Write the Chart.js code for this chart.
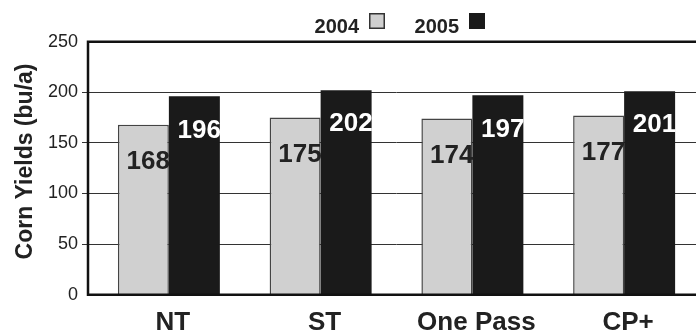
<!DOCTYPE html>
<html>
<head>
<meta charset="utf-8">
<script src="https://cdn.jsdelivr.net/npm/chart.js@4/dist/chart.umd.min.js"></script>
<style>
  html, body { margin: 0; padding: 0; background: #fff; overflow: hidden; }
  #wrap { width: 704px; height: 333px; }
</style>
</head>
<body>
<div id="wrap"><canvas id="c" width="704" height="333"></canvas></div>
<script>
// Corn yields by tillage system, two seasons
const categories = ['NT', 'ST', 'One Pass', 'CP+'];
const yields2004 = [168, 175, 174, 177];
const yields2005 = [196, 202, 197, 201];
const seriesNames = ['2004', '2005'];
const yTicks = [0, 50, 100, 150, 200, 250];
const yTitle = 'Corn Yields (bu/a)';

const FONT = '"Liberation Sans", Arial, Helvetica, sans-serif';
const INK = '#222222';

// Frame around the plot: left axis, top rule and base line
const framePlugin = {
  id: 'frame',
  afterDatasetsDraw(chart) {
    const { ctx, chartArea, scales } = chart;
    const y = scales.y;
    const x0 = chartArea.left - 5;
    const top = y.getPixelForValue(250);
    const bot = y.getPixelForValue(0);
    ctx.save();
    ctx.strokeStyle = '#111';
    ctx.lineWidth = 2.5;
    ctx.beginPath();
    ctx.moveTo(chart.width, top);
    ctx.lineTo(x0, top);
    ctx.lineTo(x0, bot);
    ctx.lineTo(chart.width, bot);
    ctx.stroke();
    ctx.restore();
  }
};

// Value labels inside the top of each bar
const valueLabels = {
  id: 'valueLabels',
  afterDatasetsDraw(chart) {
    const { ctx } = chart;
    ctx.save();
    ctx.font = 'bold 26px ' + FONT;
    ctx.textAlign = 'right';
    ctx.textBaseline = 'middle';
    chart.data.datasets.forEach((ds, di) => {
      const meta = chart.getDatasetMeta(di);
      meta.data.forEach((bar, i) => {
        ctx.fillStyle = di === 0 ? INK : '#ffffff';
        const drop = di === 0 ? 37 : 34;
        ctx.fillText(String(ds.data[i]), bar.x + bar.width / 2 + 1, bar.y + drop);
      });
    });
    ctx.restore();
  }
};

// Series key above the plot: name followed by its swatch
const seriesKey = {
  id: 'seriesKey',
  afterDraw(chart) {
    const { ctx } = chart;
    const textRight = [359, 459];
    ctx.save();
    ctx.font = 'bold 20px ' + FONT;
    ctx.textAlign = 'right';
    ctx.textBaseline = 'middle';
    chart.data.datasets.forEach((ds, di) => {
      ctx.fillStyle = INK;
      ctx.fillText(ds.label, textRight[di], 27);
      const sx = textRight[di] + 10, sy = 13, s = 16;
      ctx.fillStyle = ds.backgroundColor;
      ctx.fillRect(sx, sy, s, s);
      if (di === 0) {
        ctx.strokeStyle = '#333';
        ctx.lineWidth = 1.5;
        ctx.strokeRect(sx + 0.75, sy + 0.75, s - 1.5, s - 1.5);
      }
    });
    ctx.restore();
  }
};

// Rotated y-axis title
const yAxisTitle = {
  id: 'yAxisTitle',
  afterDraw(chart) {
    const { ctx } = chart;
    ctx.save();
    ctx.translate(26, 161.5);
    ctx.rotate(-Math.PI / 2);
    ctx.font = 'bold 23px ' + FONT;
    ctx.fillStyle = INK;
    ctx.textAlign = 'center';
    ctx.textBaseline = 'middle';
    ctx.fillText(yTitle, 0, 0);
    ctx.restore();
  }
};

new Chart(document.getElementById('c'), {
  type: 'bar',
  data: {
    labels: categories,
    datasets: [
      {
        label: seriesNames[0],
        data: yields2004,
        backgroundColor: '#d0d0d0',
        borderColor: '#444444',
        borderWidth: 1.5,
        borderSkipped: 'bottom'
      },
      {
        label: seriesNames[1],
        data: yields2005,
        backgroundColor: '#1a1a1a',
        borderWidth: 0
      }
    ]
  },
  options: {
    responsive: false,
    animation: false,
    events: [],
    layout: { padding: { top: 41.7, right: 4, left: 0, bottom: 0 } },
    categoryPercentage: 0.672,
    barPercentage: 1.0,
    plugins: {
      legend: { display: false },
      tooltip: { enabled: false },
      title: { display: false }
    },
    scales: {
      x: {
        grid: { display: false },
        border: { display: false },
        ticks: {
          color: INK,
          font: { family: FONT, size: 26, weight: 'bold' },
          padding: 5,
          labelOffset: 4,
          maxRotation: 0,
          autoSkip: false
        },
        afterFit(s) { s.height = 38.3; }
      },
      y: {
        min: 0,
        max: 250,
        afterBuildTicks(s) { s.ticks = yTicks.map(v => ({ value: v })); },
        border: { display: false },
        grid: {
          color: ctx => (ctx.tick && (ctx.tick.value === 0 || ctx.tick.value === 250)) ? 'rgba(0,0,0,0)' : '#333333',
          tickColor: ctx => (ctx.tick && (ctx.tick.value === 0 || ctx.tick.value === 250)) ? 'rgba(0,0,0,0)' : '#333333',
          lineWidth: 1,
          tickLength: 11
        },
        ticks: {
          color: INK,
          font: { family: FONT, size: 18 },
          padding: 4
        },
        afterFit(s) { s.width = 93; }
      }
    }
  },
  plugins: [framePlugin, valueLabels, seriesKey, yAxisTitle]
});
</script>
</body>
</html>
